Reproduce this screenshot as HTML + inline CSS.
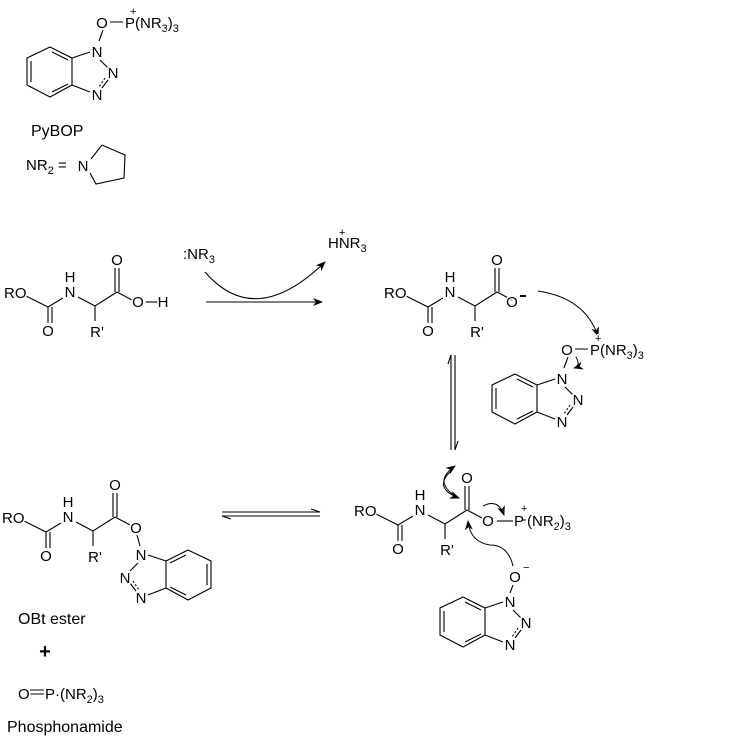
<!DOCTYPE html>
<html><head><meta charset="utf-8"><style>
html,body{margin:0;padding:0;background:#fff;}
svg{display:block;font-family:"Liberation Sans",Arial,sans-serif;font-size:15px;}
text{fill:#000;stroke:#fff;stroke-width:3px;paint-order:stroke;stroke-linejoin:round;}
.s{font-size:11px;}
.c{font-size:16px;}
</style></head><body>
<svg width="734" height="736" viewBox="0 0 734 736" xmlns="http://www.w3.org/2000/svg">
<defs>
<marker id="ah" markerWidth="10" markerHeight="8" refX="9" refY="4" orient="auto" markerUnits="userSpaceOnUse">
<path d="M0,0 L10,4 L0,8 L3,4 z" fill="#000"/></marker>
<g id="btz" stroke="#000" stroke-width="1.1" fill="none">
<path d="M50,47 L72,58 L72,85 L50,97 L27,85 L27,58 Z"/>
<path d="M31,61 L31,82 M52,52 L68,60 M52,92 L68,84"/>
<path d="M72,58 L90,52 M72,85 L90,92 M100,60 L108,68 M108,80 L102,88"/>
<path d="M105,78 L99,87" stroke-dasharray="2,2"/>
</g>
<g id="aa" stroke="#000" stroke-width="1.1" fill="none">
<path d="M24,295 L48,307 L63,298 M48,307 L48,323 M52,307 L52,323 M78,297 L95,306 L117,292 M95,306 L95,321 M115,292 L115,268 M119,292 L119,268 M117,292 L132,300"/>
</g>
<g id="aat">
<text x="4" y="298">RO</text><text x="48" y="336" text-anchor="middle">O</text>
<text x="70" y="297" text-anchor="middle">N</text><text x="70" y="282" text-anchor="middle">H</text>
<text x="97" y="337" text-anchor="middle">R'</text><text x="117" y="265" text-anchor="middle">O</text>
</g>
</defs>

<g id="pybop">
<use href="#btz"/>
<path d="M110,22 L123,22 M103,30 L99,41" stroke="#000" stroke-width="1.1"/>
<text x="102" y="28" text-anchor="middle">O</text>
<text x="125" y="28">P(NR<tspan class="s" dy="4">3</tspan><tspan dy="-4">)</tspan><tspan class="s" dy="4">3</tspan></text>
<text x="130" y="15" class="s">+</text>
<text x="97" y="57" text-anchor="middle">N</text>
<text x="113" y="78" text-anchor="middle">N</text>
<text x="97" y="100" text-anchor="middle">N</text>
</g>
<text x="31" y="136" class="c">PyBOP</text>
<text x="26" y="170">NR<tspan class="s" dy="4">2</tspan><tspan dy="-4"> =</tspan></text>
<path d="M91,159 L102,145 L125,155 L124,178 L96,184 L90,173" stroke="#000" stroke-width="1.1" fill="none"/>
<text x="83" y="171" text-anchor="middle">N</text>

<use href="#aa"/><use href="#aat"/>
<path d="M146,302 L158,302" stroke="#000" stroke-width="1.1"/>
<text x="138" y="307" text-anchor="middle">O</text>
<text x="163" y="307" text-anchor="middle">H</text>

<text x="183" y="259">:NR<tspan class="s" dy="4">3</tspan></text>
<path d="M206,302 L322,302" stroke="#000" stroke-width="1.1" marker-end="url(#ah)"/>
<path d="M205,272 Q255,330 325,262" stroke="#000" stroke-width="1.1" fill="none" marker-end="url(#ah)"/>
<text x="328" y="248">HNR<tspan class="s" dy="4">3</tspan></text>
<text x="339" y="236" class="s">+</text>

<g transform="translate(380,0)"><use href="#aa"/><use href="#aat"/></g>
<text x="512" y="307" text-anchor="middle">O</text>
<path d="M520,296 L526,296" stroke="#000" stroke-width="2"/>
<path d="M538,291 Q585,298 598,336" stroke="#000" stroke-width="1" fill="none" marker-end="url(#ah)"/>
<g transform="translate(465,327)"><use href="#pybop"/></g>
<path d="M576,357 Q581,366 574,368" stroke="#000" stroke-width="1" fill="none" marker-end="url(#ah)"/>

<path d="M451,355 L451,450 M455,355 L455,450" stroke="#000" stroke-width="1.1"/>
<path d="M451,355 L448,364 M455,450 L458,441" stroke="#000" stroke-width="1.1"/>

<g transform="translate(350,218)"><use href="#aa"/><use href="#aat"/></g>
<path d="M497,521 L513,521" stroke="#000" stroke-width="1.1"/>
<text x="488" y="526" text-anchor="middle">O</text>
<text x="514" y="526">P</text>
<text x="521" y="512" class="s">+</text>
<path d="M522,520 L526,520" stroke="#000" stroke-width="1"/>
<text x="527" y="526">(NR<tspan class="s" dy="4">2</tspan><tspan dy="-4">)</tspan><tspan class="s" dy="4">3</tspan></text>
<path d="M457,497 Q432,482 455,466" stroke="#000" stroke-width="1" fill="none" marker-end="url(#ah)"/>
<path d="M452,470 Q432,488 459,498" stroke="#000" stroke-width="1" fill="none" marker-end="url(#ah)"/>
<path d="M483,506 Q498,498 504,515" stroke="#000" stroke-width="1" fill="none" marker-end="url(#ah)"/>
<path d="M513,566 Q508,545 490,545 Q470,542 468,521" stroke="#000" stroke-width="1" fill="none" marker-end="url(#ah)"/>
<path d="M513,585 L510,593" stroke="#000" stroke-width="1.1"/>
<text x="515" y="582" text-anchor="middle">O</text>
<text x="523" y="571" class="s">−</text>
<g transform="translate(413,550)"><use href="#btz"/>
<text x="97" y="57" text-anchor="middle">N</text>
<text x="113" y="78" text-anchor="middle">N</text>
<text x="97" y="100" text-anchor="middle">N</text></g>

<path d="M222,512 L320,512 M222,516 L320,516 M320,512 L311,509 M222,516 L231,519" stroke="#000" stroke-width="1.1"/>

<g transform="translate(-2,225)"><use href="#aa"/><use href="#aat"/></g>
<path d="M137,535 L140,546" stroke="#000" stroke-width="1.1"/>
<g transform="translate(238,503) scale(-1,1)"><use href="#btz"/></g>
<text x="136" y="533" text-anchor="middle">O</text>
<text x="141" y="560" text-anchor="middle">N</text>
<text x="125" y="583" text-anchor="middle">N</text>
<text x="141" y="603" text-anchor="middle">N</text>

<text x="18" y="624" class="c">OBt ester</text>
<text x="45" y="658" text-anchor="middle" style="font-size:20px;font-weight:bold">+</text>
<path d="M30,690 L44,690 M30,694 L44,694" stroke="#000" stroke-width="1.1"/>
<text x="18" y="699">O</text>
<text x="45" y="699">P·(NR<tspan class="s" dy="4">2</tspan><tspan dy="-4">)</tspan><tspan class="s" dy="4">3</tspan></text>
<text x="7" y="732" class="c">Phosphonamide</text>
</svg>
</body></html>
